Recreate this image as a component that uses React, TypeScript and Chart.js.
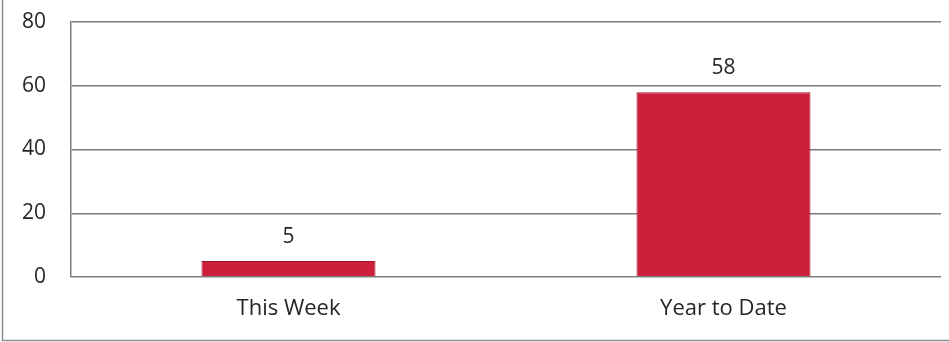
import React, { useEffect, useRef } from "react";
import { Chart, registerables } from "chart.js";

Chart.register(...registerables);

const categories = ["This Week", "Year to Date"];
const values = [5, 58];
const yTicks = [0, 20, 40, 60, 80];

const FONT = "'Open Sans', 'Liberation Sans', sans-serif";
const TEXT = "#262626";
const GRID = "#7f7f7f";

const labelsPlugin = {
  id: "barLabels",
  afterDatasetsDraw(chart: any) {
    const ctx = chart.ctx;
    const meta = chart.getDatasetMeta(0);
    ctx.save();
    ctx.font = `21px ${FONT}`;
    ctx.fillStyle = TEXT;
    ctx.textAlign = "center";
    ctx.textBaseline = "alphabetic";
    meta.data.forEach((el: any, i: number) => {
      ctx.fillText(String(values[i]), el.x, el.y - 18);
    });
    ctx.restore();
  },
};

const framePlugin = {
  id: "frame",
  afterDraw(chart: any) {
    const ctx = chart.ctx;
    ctx.save();
    ctx.strokeStyle = "#8c8c8c";
    ctx.lineWidth = 1.5;
    ctx.beginPath();
    ctx.moveTo(2.5, 0);
    ctx.lineTo(2.5, 340.5);
    ctx.lineTo(chart.width, 340.5);
    ctx.stroke();
    ctx.restore();
  },
};

export default function App() {
  const ref = useRef<HTMLCanvasElement>(null);
  useEffect(() => {
    const canvas = ref.current!;
    const chart = new Chart(canvas, {
      type: "bar",
      data: {
        labels: categories,
        datasets: [
          {
            data: values,
            backgroundColor: (c: any) => {
              const { ctx, chartArea } = c.chart;
              if (!chartArea) return "#cc1f3c";
              const el = c.element;
              if (!el || el.x === undefined) return "#cc1f3c";
              const w = el.width || 174;
              const g = ctx.createLinearGradient(el.x - w / 2, 0, el.x + w / 2, 0);
              g.addColorStop(0, "#b8142f");
              g.addColorStop(0.06, "#d3243f");
              g.addColorStop(0.94, "#cf2039");
              g.addColorStop(1, "#a8112a");
              return g;
            },
            borderColor: "#9c1329",
            borderWidth: 1,
            categoryPercentage: 0.8,
            barPercentage: 0.5,
          },
        ],
      },
      options: {
        animation: false,
        responsive: true,
        maintainAspectRatio: false,
        layout: { padding: { top: 22, right: 8, left: 0, bottom: 0 } },
        plugins: {
          legend: { display: false },
          tooltip: { enabled: false },
        },
        scales: {
          x: {
            grid: { display: false, drawTicks: false },
            border: { display: false },
            ticks: {
              font: { family: FONT, size: 22 },
              color: TEXT,
              padding: 19,
            },
            afterFit(scale: any) {
              scale.height = 65;
              scale.paddingLeft = 0;
              scale.paddingRight = 0;
            },
          },
          y: {
            min: 0,
            max: 80,
            afterBuildTicks(scale: any) {
              scale.ticks = yTicks.map((v) => ({ value: v }));
            },
            grid: { color: GRID, lineWidth: 1.5, drawTicks: false },
            border: { display: true, color: GRID, width: 1.5 },
            ticks: {
              font: { family: FONT, size: 21 },
              color: TEXT,
              padding: 25,
            },
            afterFit(scale: any) {
              scale.width = 71;
              scale.paddingTop = 0;
              scale.paddingBottom = 0;
            },
          },
        },
      },
      plugins: [labelsPlugin, framePlugin],
    });
    return () => chart.destroy();
  }, []);
  return (
    <div
      style={{
        position: "absolute",
        left: 0,
        top: 0,
        width: 949,
        height: 342,
        background: "#fff",
      }}
    >
      <canvas ref={ref} />
    </div>
  );
}
